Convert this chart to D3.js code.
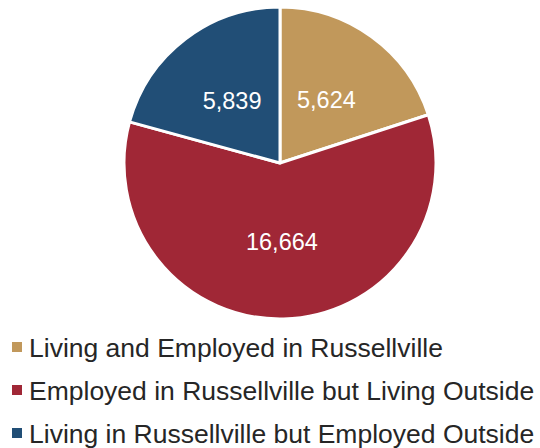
<!DOCTYPE html>
<html>
<head>
<meta charset="utf-8">
<script src="https://cdn.jsdelivr.net/npm/d3@7"></script>
<style>
  html, body { margin: 0; padding: 0; background: #fff; }
  svg { display: block; font-family: "Liberation Sans", Arial, sans-serif; }
</style>
</head>
<body>
<svg id="chart" width="540" height="448"></svg>
<script>
// Commuting pattern categories and worker counts
const categories = [
  "Living and Employed in Russellville",
  "Employed in Russellville but Living Outside",
  "Living in Russellville but Employed Outside"
];
const workers = [5624, 16664, 5839];
const colors = ["#C1985B", "#A02736", "#214E76"];

const svg = d3.select("#chart");
const cx = 280, cy = 163, radius = 156, labelRadius = 79;

const data = categories.map((c, i) => ({ category: c, value: workers[i], color: colors[i] }));

const pie = d3.pie().value(d => d.value).sort(null);
const arc = d3.arc().innerRadius(0).outerRadius(radius);
const labelArc = d3.arc().innerRadius(labelRadius).outerRadius(labelRadius);

const g = svg.append("g").attr("transform", `translate(${cx},${cy})`);
const arcs = pie(data);

g.selectAll("path.slice")
  .data(arcs)
  .join("path")
  .attr("class", "slice")
  .attr("d", arc)
  .attr("fill", d => d.data.color)
  .attr("stroke", "#fff")
  .attr("stroke-width", 3)
  .attr("stroke-linejoin", "round");

const fmt = d3.format(",");
g.selectAll("text.value")
  .data(arcs)
  .join("text")
  .attr("class", "value")
  .attr("transform", d => `translate(${labelArc.centroid(d)})`)
  .attr("text-anchor", "middle")
  .attr("dy", "0.36em")
  .attr("fill", "#fff")
  .attr("font-size", 23.5)
  .text(d => fmt(d.data.value));

// Legend
const legend = svg.append("g").attr("transform", "translate(12,347)");
const rows = legend.selectAll("g.row")
  .data(data)
  .join("g")
  .attr("class", "row")
  .attr("transform", (d, i) => `translate(0,${i * 43})`);

rows.append("rect")
  .attr("x", 0).attr("y", -5)
  .attr("width", 10).attr("height", 10)
  .attr("fill", d => d.color);

rows.append("text")
  .attr("x", 17)
  .attr("dy", "0.36em")
  .attr("fill", "#262626")
  .attr("font-size", 26.5)
  .text(d => d.category);
</script>
</body>
</html>
